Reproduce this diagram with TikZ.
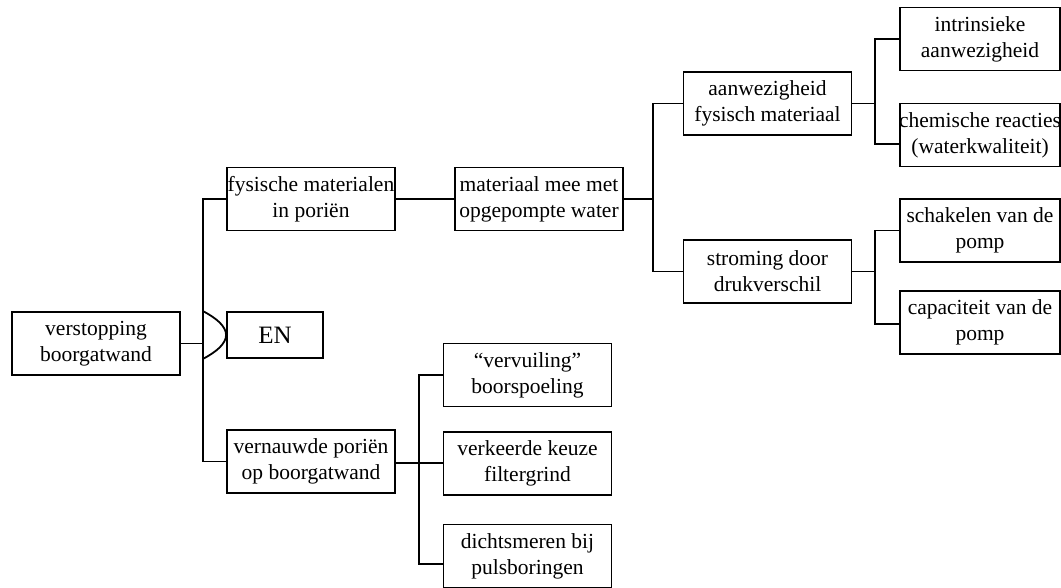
\documentclass[tikz,border=0pt]{standalone}
\usepackage{fontspec}
\setmainfont{Liberation Serif}
\begin{document}
\begin{tikzpicture}[x=1pt,y=-1pt,line width=1.8pt,
  box/.style={draw,rectangle,inner sep=0pt,align=center,
    minimum width=168pt,minimum height=63pt,
    font=\fontsize{21.5}{26}\selectfont},
  narrow/.style={box,minimum width=160pt},
  link/.style={line cap=rect}]
\useasboundingbox (0,0) rectangle (1061,588);

% root and gate
\node[box] (root) at (96,343.5) {verstopping\\boorgatwand};
\node[box,minimum width=96pt,minimum height=46pt,
      font=\fontsize{25}{30}\selectfont] (en) at (275,335) {EN};

% upper branch
\node[box] (fys) at (311,199) {\makebox[0pt]{fysische materialen}\\in poriën};
\node[box] (mee) at (539,199) {materiaal mee met\\opgepompte water};
\node[box] (aan) at (767.5,103.5) {aanwezigheid\\fysisch materiaal};
\node[box] (str) at (767.5,271.5) {stroming door\\drukverschil};
\node[narrow] (intr) at (980,39) {intrinsieke\\aanwezigheid};
\node[narrow] (chem) at (980,135) {\makebox[0pt]{chemische reacties}\\(waterkwaliteit)};
\node[narrow] (sch) at (980,230.5) {schakelen van de\\pomp};
\node[narrow] (cap) at (980,322.5) {capaciteit van de\\pomp};

% lower branch
\node[box] (ver) at (311,461.5) {vernauwde poriën\\op boorgatwand};
\node[box] (vv) at (527.5,375) {“vervuiling”\\boorspoeling};
\node[box] (vk) at (527.5,463.5) {verkeerde keuze\\filtergrind};
\node[box] (ds) at (527.5,556) {dichtsmeren bij\\pulsboringen};

% junction points
\coordinate (j0) at (203,343.5);
\coordinate (j1) at (653,199);
\coordinate (j2a) at (875,103.5);
\coordinate (j2b) at (875,271.5);
\coordinate (j3) at (419,463);

% root spine with AND gate
\draw (root.east) -- (j0);
\draw (fys.west) -| (j0) |- (ver.west);
\draw (j0 |- en.north) .. controls (216,318) and (226,326) .. (en.west)
      .. controls (226,344) and (216,352) .. (j0 |- en.south);

% upper tree
\draw (fys) -- (mee);
\draw (mee.east) -- (j1);
\draw (aan.west) -| (j1) |- (str.west);
\draw (aan.east) -- (j2a);
\draw (intr.west) -| (j2a) |- ([yshift=-9pt]chem.west);
\draw (str.east) -- (j2b);
\draw (sch.west) -| (j2b) |- ([yshift=-1.5pt]cap.west);

% lower tree
\draw (ver.east |- j3) -- (j3);
\draw (vv.west) -| (j3) |- ([yshift=-8pt]ds.west);
\draw (j3) -- (vk.west |- j3);
\end{tikzpicture}
\end{document}
